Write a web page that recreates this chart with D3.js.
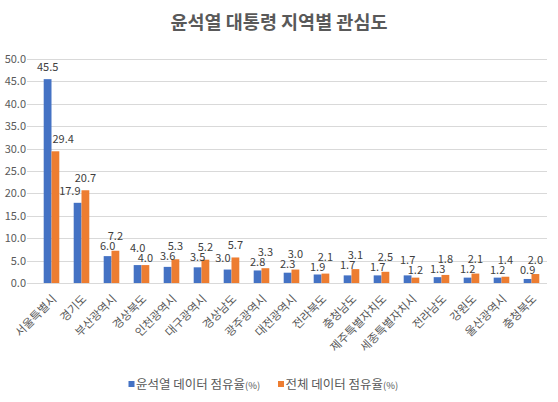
<!DOCTYPE html>
<html>
<head>
<meta charset="utf-8">
<script src="https://cdn.jsdelivr.net/npm/d3@7"></script>
<style>
  body { margin: 0; background: #fff; }
  svg { display: block; font-family: "Malgun Gothic", "Noto Sans CJK KR", sans-serif; }
</style>
</head>
<body>
<svg id="chart" width="558" height="402"></svg>
<script>
// --- Données ---
const REGIONS = ["서울특별시", "경기도", "부산광역시", "경상북도", "인천광역시", "대구광역시",
  "경상남도", "광주광역시", "대전광역시", "전라북도", "충청남도", "제주특별자치도",
  "세종특별자치시", "전라남도", "강원도", "울산광역시", "충청북도"];
const YOON_SHARE = [45.5, 17.9, 6.0, 4.0, 3.6, 3.5, 3.0, 2.8, 2.3, 1.9, 1.7, 1.7, 1.7, 1.3, 1.2, 1.2, 0.9];
const ALL_SHARE = [29.4, 20.7, 7.2, 4.0, 5.3, 5.2, 5.7, 3.3, 3.0, 2.1, 3.1, 2.5, 1.2, 1.8, 2.1, 1.4, 2.0];
const Y_TICKS = [0, 5, 10, 15, 20, 25, 30, 35, 40, 45, 50];
const SERIES = [
  { name: "윤석열 데이터 점유율", values: YOON_SHARE, color: "#4472C4" },
  { name: "전체 데이터 점유율", values: ALL_SHARE, color: "#ED7D31" }
];

const svg = d3.select("#chart");
const W = 558, H = 402;
const margin = { left: 36.5, right: 11.5, top: 59, bottom: 119 };

const x = d3.scaleBand().domain(REGIONS).range([margin.left, W - margin.right]).paddingInner(0.48).paddingOuter(0.24);
const xs = d3.scaleBand().domain(SERIES.map(s => s.name)).range([0, x.bandwidth()]);
const y = d3.scaleLinear().domain([0, 50]).range([H - margin.bottom, margin.top]);
const fmt = d3.format(".1f");

// Titre
svg.append("text")
  .attr("x", W / 2).attr("y", 29)
  .attr("text-anchor", "middle")
  .attr("font-size", "18.5px").attr("font-weight", "700")
  .attr("fill", "#595959")
  .text("윤석열 대통령 지역별 관심도");

// Grille + axe Y
svg.append("g").selectAll("line").data(Y_TICKS).join("line")
  .attr("x1", 27).attr("x2", 547)
  .attr("y1", d => Math.round(y(d)) + 0.5).attr("y2", d => Math.round(y(d)) + 0.5)
  .attr("stroke", "#d9d9d9").attr("stroke-width", 1);

svg.append("g").selectAll("text").data(Y_TICKS).join("text")
  .attr("x", 26).attr("y", d => y(d) + 4)
  .attr("text-anchor", "end")
  .attr("font-size", "11px").attr("fill", "#595959")
  .text(fmt);

// Barres
const groups = svg.append("g").selectAll("g").data(REGIONS).join("g")
  .attr("transform", d => `translate(${x(d)},0)`);

groups.selectAll("rect")
  .data((d, i) => SERIES.map(s => ({ s, v: s.values[i] })))
  .join("rect")
  .attr("x", d => xs(d.s.name))
  .attr("width", xs.bandwidth())
  .attr("y", d => y(d.v))
  .attr("height", d => y(0) - y(d.v))
  .attr("fill", d => d.s.color);

// Étiquettes de données : écart vertical si chevauchement, et décalage
// horizontal quand la barre voisine passe derrière l'étiquette
groups.each(function (region, i) {
  const g = d3.select(this);
  const tops = SERIES.map(s => y(s.values[i]));
  const c = tops.map(t => t - 12);
  if (Math.abs(c[0] - c[1]) < 10) {
    const mid = (c[0] + c[1]) / 2;
    if (c[0] <= c[1]) { c[0] = mid - 5; c[1] = mid + 5; }
    else { c[0] = mid + 5; c[1] = mid - 5; }
  }
  SERIES.forEach((s, k) => {
    const bx = xs(s.name), bw = xs.bandwidth();
    const t = g.append("text")
      .attr("x", bx + bw / 2)
      .attr("y", c[k] + 4)
      .attr("text-anchor", "middle")
      .attr("font-size", "11px").attr("fill", "#404040")
      .text(fmt(s.values[i]));
    const other = 1 - k;
    if (tops[other] < c[k]) {
      const half = t.node().getComputedTextLength() / 2;
      if (k === 1) t.attr("x", xs(SERIES[other].name) + bw + 1 + half);
      else t.attr("x", xs(SERIES[other].name) - 1 - half);
    }
  });
});

// Libellés de catégories, inclinés
svg.append("g").selectAll("text").data(REGIONS).join("text")
  .attr("transform", d => `translate(${x(d) + x.bandwidth() / 2 + 3},${y(0) + 14}) rotate(-45)`)
  .attr("text-anchor", "end")
  .attr("dy", "0.35em")
  .attr("font-size", "11.5px").attr("fill", "#595959")
  .text(d => d);

// Légende
const legend = svg.append("g").attr("transform", "translate(0,385)");
const legX = [128.5, 278];
SERIES.forEach((s, k) => {
  legend.append("rect")
    .attr("x", legX[k]).attr("y", -4).attr("width", 6).attr("height", 6)
    .attr("fill", s.color);
  const t = legend.append("text")
    .attr("x", legX[k] + 7.5).attr("y", 4)
    .attr("font-size", "12.5px").attr("fill", "#595959");
  t.append("tspan").text(s.name);
  t.append("tspan").attr("font-size", "9.5px").text("(%)");
});
</script>
</body>
</html>
